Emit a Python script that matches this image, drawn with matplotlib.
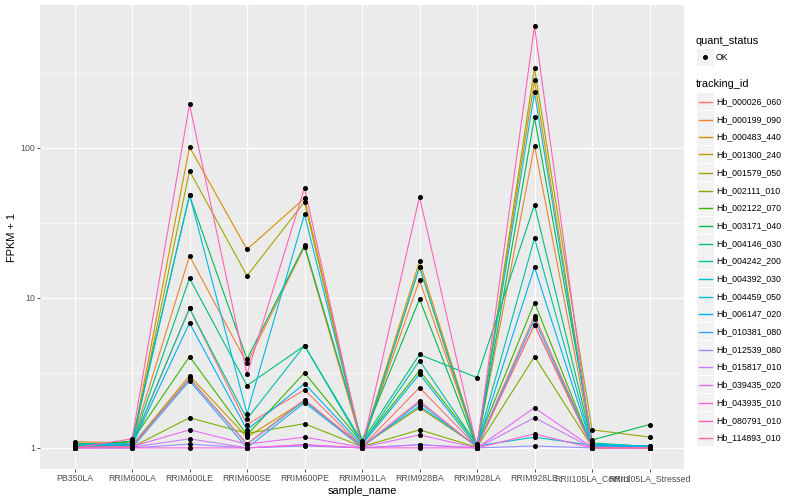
import numpy as np
import matplotlib
matplotlib.use("Agg")
import matplotlib.pyplot as plt
from matplotlib.patches import Rectangle
from matplotlib.lines import Line2D

plt.rcParams['font.family'] = ['Liberation Sans', 'DejaVu Sans']

samples = ["PB350LA", "RRIM600LA", "RRIM600LE", "RRIM600SE", "RRIM600PE",
           "RRIM901LA", "RRIM928BA", "RRIM928LA", "RRIM928LE",
           "RRII105LA_Control", "RRII105LA_Stressed"]

genes = ["Hb_000026_060", "Hb_000199_090", "Hb_000483_440", "Hb_001300_240",
         "Hb_001579_050", "Hb_002111_010", "Hb_002122_070", "Hb_003171_040",
         "Hb_004146_030", "Hb_004242_200", "Hb_004392_030", "Hb_004459_050",
         "Hb_006147_020", "Hb_010381_080", "Hb_012539_080", "Hb_015817_010",
         "Hb_039435_020", "Hb_043935_010", "Hb_080791_010", "Hb_114893_010"]

# FPKM + 1, one row per gene, columns follow samples
Hb_000026_060 = [1.02, 1.05, 8.5, 1.43, 2.44, 1.02, 2.52, 1.02, 7.6, 1.03, 1.0]
Hb_000199_090 = [1.10, 1.08, 19, 3.65, 21.8, 1.05, 13.1, 1.04, 103, 1.06, 1.02]
Hb_000483_440 = [1.08, 1.05, 101, 21, 46, 1.05, 17.5, 1.05, 281, 1.05, 1.0]
Hb_001300_240 = [1.06, 1.04, 3.03, 1.18, 2.06, 1.03, 1.85, 1.03, 6.6, 1.04, 1.0]
Hb_001579_050 = [1.05, 1.02, 70, 14, 43.5, 1.0, 16, 1.0, 338, 1.32, 1.18]
Hb_002111_010 = [1.04, 1.01, 1.59, 1.25, 1.45, 1.02, 1.32, 1.01, 4.06, 1.02, 1.01]
Hb_002122_070 = [1.03, 1.11, 4.06, 1.22, 3.16, 1.08, 3.27, 1.06, 9.3, 1.02, 1.0]
Hb_003171_040 = [1.0, 1.11, 48, 3.9, 22.4, 1.12, 9.8, 1.0, 159, 1.13, 1.43]
Hb_004146_030 = [1.0, 1.05, 13.5, 2.6, 4.8, 1.10, 4.19, 2.94, 41.6, 1.08, 1.02]
Hb_004242_200 = [1.07, 1.06, 8.5, 1.56, 4.8, 1.06, 3.82, 1.05, 25, 1.05, 1.03]
Hb_004392_030 = [1.05, 1.03, 2.9, 1.06, 2.06, 1.03, 1.9, 1.03, 1.18, 1.04, 1.02]
Hb_004459_050 = [1.04, 1.07, 48.5, 1.69, 36, 1.04, 16, 1.04, 233, 1.06, 1.03]
Hb_006147_020 = [1.02, 1.04, 6.8, 1.32, 2.68, 1.05, 3.1, 1.02, 16, 1.03, 1.02]
Hb_010381_080 = [1.01, 1.0, 2.8, 1.0, 2.0, 1.01, 2.0, 1.01, 7.2, 1.02, 1.0]
Hb_012539_080 = [1.0, 1.0, 1.06, 1.0, 1.03, 1.0, 1.05, 1.0, 1.03, 1.0, 1.0]
Hb_015817_010 = [1.0, 1.01, 1.15, 1.0, 1.05, 1.0, 1.05, 1.0, 1.59, 1.0, 1.0]
Hb_039435_020 = [1.0, 1.02, 1.32, 1.06, 1.18, 1.01, 1.22, 1.0, 1.85, 1.01, 1.0]
Hb_043935_010 = [1.0, 1.0, 1.0, 1.0, 1.05, 1.0, 1.0, 1.0, 1.24, 1.0, 1.0]
Hb_080791_010 = [1.0, 1.15, 194, 3.1, 54, 1.0, 47, 1.0, 645, 1.0, 1.0]
Hb_114893_010 = [1.01, 1.02, 2.9, 1.06, 2.1, 1.02, 2.06, 1.01, 6.6, 1.0, 1.0]

values = [Hb_000026_060, Hb_000199_090, Hb_000483_440, Hb_001300_240,
          Hb_001579_050, Hb_002111_010, Hb_002122_070, Hb_003171_040,
          Hb_004146_030, Hb_004242_200, Hb_004392_030, Hb_004459_050,
          Hb_006147_020, Hb_010381_080, Hb_012539_080, Hb_015817_010,
          Hb_039435_020, Hb_043935_010, Hb_080791_010, Hb_114893_010]

# ggplot hue palette, 20 levels
colors = ["#F8766D", "#EA8331", "#D89000", "#C09B00", "#A3A500", "#7CAE00",
          "#39B600", "#00BB4E", "#00BF7D", "#00C1A3", "#00BFC4", "#00BAE0",
          "#00B0F6", "#35A2FF", "#9590FF", "#C77CFF", "#E76BF3", "#FA62DB",
          "#FF62BC", "#FF6C91"]

W, H = 800, 500
fig = plt.figure(figsize=(8, 5), dpi=100)
ax = fig.add_axes([40 / W, 1 - 469 / H, 644 / W, 464 / H])
ax.set_facecolor("#EBEBEB")

x = np.arange(len(samples))
for g, c in zip(values, colors):
    ax.plot(x, g, color=c, lw=0.8, zorder=3)
for g in values:
    ax.plot(x, g, ls="none", marker="o", ms=2.6, color="black", zorder=4)

ax.set_yscale("log")
allv = np.log10(np.array(values))
lo, hi = allv.min(), allv.max()
pad = 0.05 * (hi - lo)
ax.set_ylim(10 ** (lo - pad), 10 ** (hi + pad))
ax.set_xlim(-0.6, len(samples) - 0.4)

ax.set_yticks([1, 10, 100])
ax.set_yticklabels(["1", "10", "100"])
ax.set_yticks([10 ** 0.5, 10 ** 1.5, 10 ** 2.5], minor=True)
ax.yaxis.set_minor_formatter(matplotlib.ticker.NullFormatter())
ax.set_xticks(x)
ax.set_xticklabels(samples)

ax.grid(True, which="major", color="white", lw=0.8, zorder=0)
ax.grid(True, which="minor", axis="y", color="white", lw=0.4, zorder=0)
ax.set_axisbelow(True)
for s in ax.spines.values():
    s.set_visible(False)
ax.tick_params(which="major", length=2, width=0.6, color="#333333",
               labelsize=6.3, labelcolor="#4D4D4D", pad=1.6)
ax.tick_params(which="minor", length=0)

ax.set_xlabel("sample_name", fontsize=7.9, labelpad=2)
ax.set_ylabel("FPKM + 1", fontsize=7.9, labelpad=2)

# legends drawn by hand in pixel positions
def fx(px):
    return px / W

def fy(py):
    return 1 - py / H

fig.text(fx(696), fy(41), "quant_status", fontsize=7.9, va="center", ha="left")
fig.add_artist(Rectangle((fx(697), fy(65.5)), 16.5 / W, 16.5 / H,
                         transform=fig.transFigure, color="#F2F2F2", lw=0))
fig.add_artist(Line2D([fx(705.2)], [fy(57)], marker="o", ms=2.6, color="black",
                      transform=fig.transFigure))
fig.text(fx(716), fy(57), "OK", fontsize=6.3, va="center", ha="left")

fig.text(fx(696), fy(84), "tracking_id", fontsize=7.9, va="center", ha="left")
step = 17.7
for i, (name, c) in enumerate(zip(genes, colors)):
    yc = round(101 + step * i) + 0.5
    fig.add_artist(Rectangle((fx(697), fy(yc + 8.4)), 16.5 / W, 16.8 / H,
                             transform=fig.transFigure, color="#F2F2F2", lw=0))
    fig.add_artist(Line2D([fx(699), fx(712)], [fy(yc), fy(yc)], color=c,
                          lw=1.0, transform=fig.transFigure))
    fig.text(fx(716), fy(yc), name, fontsize=6.3, va="center", ha="left")

fig.savefig("out.png", dpi=100)
